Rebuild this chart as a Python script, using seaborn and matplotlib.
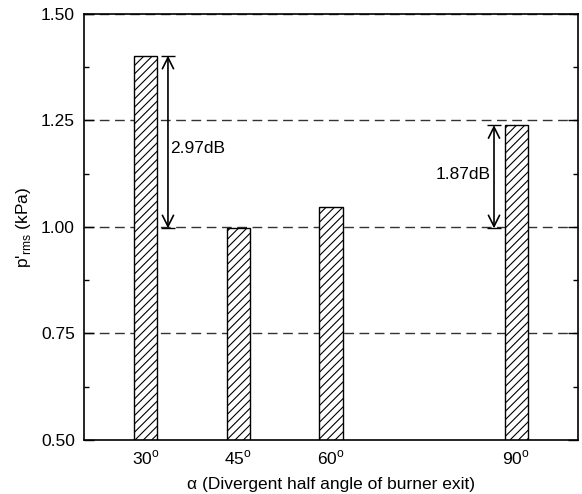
import matplotlib
matplotlib.use("Agg")
import matplotlib.pyplot as plt
import seaborn as sns
import pandas as pd
from matplotlib.ticker import MultipleLocator

# Data
angles = [30, 45, 60, 90]
prms = [1.402, 0.997, 1.048, 1.239]
tick_labels = ["30$^{\\rm o}$", "45$^{\\rm o}$", "60$^{\\rm o}$", "90$^{\\rm o}$"]
ann_text = ["2.97dB", "1.87dB"]

sns.set_style("ticks")
plt.rcParams["font.family"] = ["Liberation Sans", "DejaVu Sans"]
plt.rcParams["mathtext.fontset"] = "custom"
plt.rcParams["mathtext.rm"] = "Liberation Sans"
plt.rcParams["hatch.linewidth"] = 0.8
plt.rcParams["hatch.color"] = "black"
for k in ["text.color", "axes.labelcolor", "xtick.color", "ytick.color",
          "xtick.labelcolor", "ytick.labelcolor"]:
    plt.rcParams[k] = "black"

df = pd.DataFrame({"angle": angles, "prms": prms})

fig = plt.figure(figsize=(5.82, 4.94), dpi=100)
ax = fig.add_axes([0.1443, 0.1093, 0.8488, 0.8624])

ax.set_axisbelow(True)
for yv in [0.75, 1.0, 1.25, 1.5]:
    ax.axhline(yv, color="#333333", lw=1.0, dashes=(7, 4), zorder=0)

sns.barplot(data=df, x="angle", y="prms", native_scale=True, width=0.253,
            color="white", edgecolor="black", linewidth=1.0, hatch="////",
            errorbar=None, ax=ax, zorder=2)
for p in ax.patches:
    p.set_facecolor("white")
    p.set_hatch("////")
    p.set_edgecolor("black")

ax.set_xlim(20, 100)
ax.set_ylim(0.5, 1.5)
ax.set_xticks(angles)
ax.set_xticklabels(tick_labels, fontsize=12.5, color="black")
ax.yaxis.set_major_locator(MultipleLocator(0.25))
ax.yaxis.set_minor_locator(MultipleLocator(0.125))
ax.set_yticks([0.5, 0.75, 1.0, 1.25, 1.5])
ax.set_yticklabels(["%.2f" % v for v in [0.5, 0.75, 1.0, 1.25, 1.5]],
                   fontsize=12.5, color="black")
ax.tick_params(axis="y", which="major", direction="in", length=7, width=1,
               right=True, pad=6.5, color="black")
ax.tick_params(axis="y", which="minor", direction="in", length=3.6, width=1,
               right=True, color="black")
ax.tick_params(axis="x", which="both", length=0, pad=6)

for s in ax.spines.values():
    s.set_visible(True)
    s.set_linewidth(1.2)
    s.set_color("black")

ax.set_xlabel("\u03b1 (Divergent half angle of burner exit)", fontsize=12.5,
              labelpad=7, color="black")
ax.set_ylabel("p$'_{\\rm rms}$ (kPa)", fontsize=12.5, labelpad=6, color="black")

# Annotations: differences
def dbl_arrow(x, lo, hi):
    ax.annotate("", xy=(x, lo), xytext=(x, hi),
                arrowprops=dict(arrowstyle="<->", lw=1.2, color="black",
                                shrinkA=0, shrinkB=0, mutation_scale=20),
                zorder=5)
    ax.hlines([lo, hi], x - 1.1, x + 1.1, color="black", lw=1.0, zorder=5)

x1 = angles[0] + 3.6
dbl_arrow(x1, prms[1], prms[0])
ax.text(x1 + 0.4, (prms[0] + prms[1]) / 2 - 0.015, ann_text[0], fontsize=12.5,
        ha="left", va="center", color="black")

x2 = angles[3] - 3.6
dbl_arrow(x2, prms[1], prms[3])
ax.text(x2 - 0.6, (prms[3] + prms[1]) / 2 + 0.005, ann_text[1], fontsize=12.5,
        ha="right", va="center", color="black")

fig.savefig("out.png", dpi=100)
